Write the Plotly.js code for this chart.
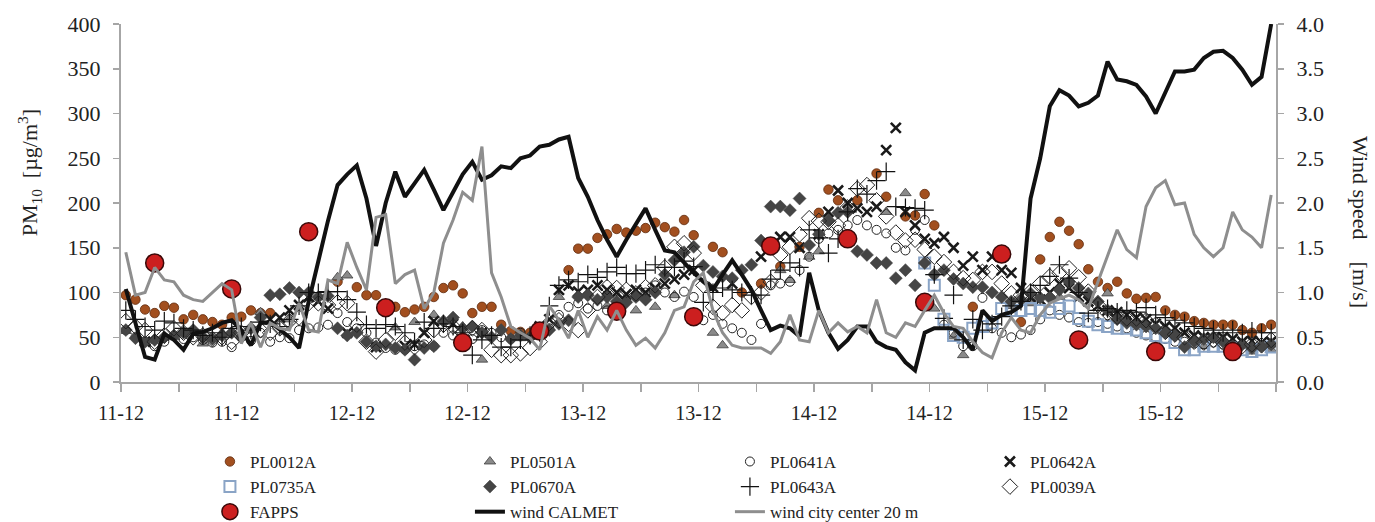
<!DOCTYPE html>
<html>
<head>
<meta charset="utf-8">
<script src="https://cdn.plot.ly/plotly-3.0.1.min.js"></script>
<style>
html,body{margin:0;padding:0;background:#fff;}
#chart{width:1375px;height:522px;}
</style>
</head>
<body>
<div id="chart"></div>
<script>
// Time axis: hours since 11-12 00:00 (hourly values plotted at mid-hour)
const hourIndex = [];
for (let i = 0; i < 120; i++) hourIndex.push(i + 0.5);

const labelHours = [0,12,24,36,48,60,72,84,96,108];
const tickLabels = ['11-12','11-12','12-12','12-12','13-12','13-12','14-12','14-12','15-12','15-12'];
const minorTickHours = [6,18,30,42,54,66,78,90,102,114,120];

const pl0012a = [97,92,81,77,85,83,70,75,70,67,
  64,72,73,80,77,77,null,null,null,null,
  null,null,112,null,106,97,97,86,84,78,
  81,84,95,105,108,99,77,84,84,64,
  57,56,55,56,null,null,125,149,149,161,
  165,171,167,169,172,178,173,168,181,164,
  null,151,145,null,100,null,110,null,129,null,
  151,null,189,215,203,null,203,null,233,207,
  null,185,186,210,175,null,null,null,84,null,
  null,null,null,67,null,137,162,179,169,154,
  126,112,105,112,99,93,94,95,80,75,
  73,68,66,64,64,64,58,55,60,64];

const pl0501a = [57,null,44,null,null,50,null,null,43,null,
  55,null,null,60,78,null,null,70,null,null,
  null,null,117,119,null,null,null,null,61,null,
  67,null,75,null,null,62,null,25,null,null,
  null,49,null,null,null,95,null,null,null,null,
  85,null,null,80,null,84,null,97,null,null,
  null,55,41,null,null,null,null,null,125,114,
  null,140,146,null,null,null,null,null,null,190,
  null,211,null,null,82,null,51,30,null,null,
  null,null,85,null,88,null,null,95,null,null,
  null,null,99,null,null,null,null,null,null,null,
  null,null,40,null,null,null,null,34,null,36];

const pl0641a = [58,50,45,40,45,52,48,50,47,44,
  45,39,50,46,55,45,50,49,58,60,
  61,64,77,67,60,55,44,38,36,36,
  40,42,40,55,52,50,48,58,55,50,
  48,55,50,55,60,75,84,88,82,85,
  80,85,90,95,100,108,100,95,101,95,
  69,75,65,60,55,47,65,108,110,112,
  125,140,160,166,170,175,181,175,170,166,
  150,147,170,181,120,64,55,40,40,94,
  60,55,50,53,58,70,80,75,72,67,
  66,67,65,62,60,55,52,50,48,45,
  45,43,42,44,42,40,42,40,40,42];

const pl0642a = [null,null,45,null,null,null,null,null,null,null,
  null,null,null,null,null,70,72,80,86,95,
  90,82,null,55,null,null,39,null,null,40,
  42,55,68,null,65,null,null,55,null,null,
  null,null,null,62,70,103,108,101,103,108,
  103,100,98,103,100,105,110,115,120,125,
  null,106,null,110,null,null,140,null,162,162,
  150,null,165,190,214,200,194,190,196,259,
  284,190,175,160,155,162,150,130,140,125,
  140,125,122,105,95,92,100,110,105,95,
  90,85,80,78,75,72,70,65,62,60,
  55,52,50,48,50,48,45,46,44,45];

const pl0735a = [null,null,null,null,null,null,null,null,null,null,
  null,null,null,null,null,null,null,null,null,null,
  null,null,null,null,null,null,null,null,null,null,
  null,null,null,null,null,null,null,null,null,null,
  null,null,null,null,null,null,null,null,null,null,
  null,null,null,null,null,null,null,null,null,null,
  null,null,null,null,null,null,null,null,null,null,
  null,null,null,null,null,null,null,null,null,null,
  null,null,null,133,108,70,52,50,60,62,
  66,82,80,80,82,80,78,82,85,71,
  68,64,62,60,60,58,55,52,50,44,
  36,36,40,40,40,38,36,34,36,39];

const pl0670a = [58,49,45,47,50,52,55,58,50,48,
  52,55,50,60,72,97,98,105,100,100,
  95,96,60,52,55,45,40,42,38,36,
  25,38,40,68,72,60,62,55,50,58,
  48,52,50,55,58,65,69,95,97,92,
  95,90,89,95,92,100,120,136,145,151,
  130,123,118,116,125,131,158,196,196,192,
  205,153,165,180,189,190,146,142,133,133,
  116,125,108,133,120,125,115,110,106,106,
  100,95,90,92,99,94,94,103,112,105,
  99,90,80,70,66,64,62,60,55,52,
  39,45,48,50,45,40,42,38,40,42];

const pl0643a = [80,70,62,58,68,66,60,58,52,55,
  50,60,62,58,67,65,62,70,85,100,
  100,101,101,92,78,64,60,64,62,55,
  45,67,60,65,62,55,30,47,52,39,
  39,47,52,55,85,108,114,112,120,117,
  123,128,121,121,125,131,128,128,135,129,
  89,100,105,103,100,97,97,115,125,133,
  128,170,161,144,160,190,216,210,225,235,
  196,195,194,192,120,71,97,47,70,58,
  65,73,85,90,100,108,118,131,116,100,
  77,80,82,78,80,78,83,75,72,69,
  66,62,60,58,55,58,55,57,55,55];

const pl0039a = [68,62,58,45,52,60,55,50,52,48,
  50,45,55,52,58,55,60,68,72,88,
  88,86,89,88,64,45,34,47,55,44,
  39,47,58,64,62,55,60,58,36,30,
  30,32,38,45,66,69,65,58,80,95,
  106,105,103,99,106,108,128,151,155,144,
  108,84,77,86,80,95,100,112,142,151,
  165,183,180,179,175,195,216,220,203,185,
  167,158,159,148,140,134,123,116,114,123,
  123,110,99,97,101,110,118,122,127,117,
  101,86,77,73,71,71,69,64,56,53,
  50,45,44,47,44,41,40,42,41,47];

const fappsHours = [3.5,11.5,19.5,27.5,35.5,43.5,51.5,59.5,67.5,75.5,83.5,91.5,99.5,107.5,115.5];
const fapps = [133,104,168,83,44,57,79,73,152,160,89,143,47,34,34];

const windCalmet = [1.04,0.65,0.28,0.25,0.54,0.47,0.36,0.54,0.56,0.60,
  0.66,0.69,0.58,0.41,0.66,0.67,0.58,0.50,0.38,0.90,
  1.35,1.80,2.20,2.32,2.42,2.05,1.52,2.00,2.35,2.07,
  2.22,2.37,2.15,1.92,2.12,2.32,2.46,2.26,2.31,2.41,
  2.39,2.50,2.53,2.63,2.65,2.71,2.74,2.28,2.07,1.81,
  1.59,1.40,1.59,1.76,1.94,1.70,1.47,1.45,1.33,1.22,
  1.12,1.03,1.20,1.36,1.20,1.03,0.80,0.58,0.63,0.60,
  0.51,1.22,0.80,0.55,0.37,0.47,0.62,0.62,0.45,0.39,
  0.36,0.22,0.13,0.55,0.60,0.60,0.60,0.50,0.36,0.80,
  0.68,0.75,0.78,0.85,2.05,2.50,3.08,3.26,3.20,3.08,
  3.12,3.20,3.58,3.38,3.36,3.32,3.19,3.00,3.23,3.47,
  3.47,3.49,3.62,3.69,3.70,3.62,3.49,3.32,3.41,4.00];

const windCity = [1.45,0.97,1.00,1.28,1.14,1.12,0.97,0.92,0.90,1.00,
  1.10,1.03,0.43,0.66,0.39,0.66,0.60,0.58,0.88,0.58,
  0.56,1.14,1.10,1.56,1.28,1.03,1.84,1.87,1.10,1.20,
  1.25,0.82,1.00,1.55,1.81,2.12,2.03,2.63,1.22,0.95,
  0.62,0.55,0.49,0.36,0.85,0.69,0.49,0.80,0.50,0.73,
  0.58,0.80,0.58,0.41,0.49,0.38,0.55,0.80,0.84,1.12,
  1.22,0.80,0.55,0.41,0.38,0.38,0.38,0.32,0.45,0.75,
  0.47,0.45,0.80,0.55,0.66,0.56,0.62,0.55,0.92,0.55,
  0.50,0.66,0.62,0.80,0.97,0.77,0.62,0.60,0.45,0.33,
  0.27,0.55,0.72,0.58,0.55,0.75,0.88,0.93,0.97,0.92,
  0.82,1.12,1.40,1.70,1.48,1.39,1.96,2.17,2.25,1.98,
  2.00,1.65,1.50,1.40,1.50,1.90,1.70,1.62,1.50,2.09];

function pts(name, y, marker) {
  return {type:'scatter', mode:'markers', name:name, x:hourIndex, y:y, marker:marker};
}

const traces = [
  pts('PL0012A', pl0012a, {symbol:'circle', size:9.5, color:'#a24f1f', line:{color:'#5e2a0c', width:0.8}}),
  pts('PL0501A', pl0501a, {symbol:'triangle-up', size:10, color:'#8a8a8a', line:{color:'#3c3c3c', width:0.8}}),
  pts('PL0641A', pl0641a, {symbol:'circle-open', size:9, color:'#222', line:{color:'#222', width:1}}),
  pts('PL0642A', pl0642a, {symbol:'x-thin', size:10, color:'#1a1a1a', line:{color:'#1a1a1a', width:2.6}}),
  pts('PL0735A', pl0735a, {symbol:'square-open', size:11, color:'#8aa4c6', line:{color:'#8aa4c6', width:2}}),
  pts('PL0670A', pl0670a, {symbol:'diamond', size:10, color:'#454545', line:{color:'#454545', width:0.5}}),
  pts('PL0643A', pl0643a, {symbol:'cross-thin', size:13, color:'#111', line:{color:'#111', width:1.2}}),
  pts('PL0039A', pl0039a, {symbol:'diamond-open', size:12, color:'#222', line:{color:'#222', width:1}}),
  {type:'scatter', mode:'markers', name:'FAPPS', x:fappsHours, y:fapps,
   marker:{symbol:'circle', size:18, color:'#cc1f1f', line:{color:'#3a0808', width:1.5}}},
  {type:'scatter', mode:'lines', name:'wind CALMET', x:hourIndex, y:windCalmet, yaxis:'y2',
   line:{color:'#111111', width:4}},
  {type:'scatter', mode:'lines', name:'wind city center 20 m', x:hourIndex, y:windCity, yaxis:'y2',
   line:{color:'#8e8e8e', width:3}}
];

const axisGrey = '#a6a6a6';
const serif = '"Liberation Serif", "Times New Roman", Times, serif';

const layout = {
  width:1375, height:522,
  margin:{l:121, r:99, t:24, b:140, autoexpand:false},
  paper_bgcolor:'#ffffff', plot_bgcolor:'#ffffff',
  font:{family:serif, color:'#222', size:17},
  showlegend:true,
  hovermode:false,
  legend:{orientation:'h', x:0.077, xanchor:'left', y:-0.173, yanchor:'top',
          entrywidth:215, entrywidthmode:'pixels', traceorder:'normal',
          font:{family:serif, size:17, color:'#222'}, bgcolor:'rgba(0,0,0,0)'},
  xaxis:{range:[0,120], tickmode:'array', tickvals:labelHours, ticktext:tickLabels,
         ticks:'outside', ticklen:8, tickwidth:1.5, tickcolor:axisGrey,
         minor:{tickmode:'array', tickvals:minorTickHours, ticks:'outside', ticklen:8, tickwidth:1.5, tickcolor:axisGrey, showgrid:false},
         showline:true, linecolor:axisGrey, linewidth:2, showgrid:false, zeroline:false,
         tickfont:{family:serif, size:20, color:'#222'}, ticklabelstandoff:4},
  yaxis:{range:[0,400], tickmode:'linear', tick0:0, dtick:50,
         ticks:'outside', ticklen:6, tickwidth:1.5, tickcolor:axisGrey,
         showline:true, linecolor:axisGrey, linewidth:2, showgrid:false, zeroline:false,
         tickfont:{family:serif, size:22, color:'#222'}, ticklabelstandoff:8},
  yaxis2:{overlaying:'y', side:'right', range:[0,4], tickmode:'linear', tick0:0, dtick:0.5, tickformat:'.1f',
          ticks:'outside', ticklen:6, tickwidth:1.5, tickcolor:axisGrey,
          showline:true, linecolor:axisGrey, linewidth:2, showgrid:false, zeroline:false,
          tickfont:{family:serif, size:22, color:'#222'}, ticklabelstandoff:8},
  annotations:[
    {text:'PM<sub>10</sub>\u00a0\u00a0[µg/m<sup>3</sup>]', textangle:-90, xref:'paper', yref:'paper',
     x:-0.079, y:0.585, xanchor:'center', yanchor:'middle', showarrow:false,
     font:{family:serif, size:22, color:'#222'}},
    {text:'Wind speed\u00a0\u00a0\u00a0\u00a0[m/s]', textangle:90, xref:'paper', yref:'paper',
     x:1.0727, y:0.447, xanchor:'center', yanchor:'middle', showarrow:false,
     font:{family:serif, size:22, color:'#222'}}
  ]
};

Plotly.newPlot('chart', traces, layout, {displayModeBar:false, staticPlot:true});
</script>
</body>
</html>
